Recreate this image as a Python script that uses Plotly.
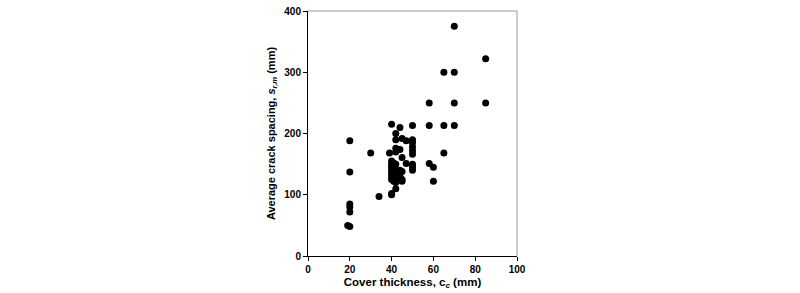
import plotly.graph_objects as go

cover = [19, 20, 20, 20, 20, 20, 20,
         30, 34, 39,
         40, 40, 40, 40, 40, 40, 40, 40, 40, 40, 40,
         41, 41, 41, 41, 41, 41,
         42, 42, 42, 42, 42, 42, 42, 42, 42,
         43, 43, 43,
         44, 44, 44, 44,
         45, 45, 45, 45, 45,
         47, 47,
         50, 50, 50, 50, 50, 50, 50, 50, 50,
         58, 58, 58,
         60, 60,
         65, 65, 65,
         70, 70, 70, 70,
         85, 85]
spacing = [50, 48, 72, 80, 85, 137, 188,
           168, 97, 168,
           215, 155, 150, 146, 142, 138, 133, 128, 125, 102, 100,
           152, 145, 135, 130, 126, 122,
           200, 190, 176, 170, 150, 140, 132, 120, 110,
           174, 138, 128,
           210, 174, 140, 130,
           192, 161, 138, 125, 122,
           188, 151,
           213, 190, 185, 178, 172, 166, 150, 145, 140,
           250, 213, 151,
           145, 122,
           300, 213, 168,
           375, 300, 250, 213,
           322, 250]

x_ticks = [0, 20, 40, 60, 80, 100]
y_ticks = [0, 100, 200, 300, 400]

fig = go.Figure()
fig.add_trace(go.Scatter(
    x=cover, y=spacing, mode="markers",
    marker=dict(color="black", size=7, line=dict(width=0)),
    showlegend=False,
))

font_family = "Liberation Sans, Arial, sans-serif"

fig.update_layout(
    width=800, height=293,
    margin=dict(l=308, r=283, t=11, b=37),
    paper_bgcolor="white", plot_bgcolor="white",
    font=dict(family=font_family, color="black"),
    xaxis=dict(
        range=[0, 100], tickvals=x_ticks, ticks="outside", ticklen=4,
        tickcolor="black", showline=True, linecolor="black", linewidth=1,
        showgrid=False, zeroline=False, automargin=False,
        tickfont=dict(size=10, family=font_family, weight="bold"),
        title=dict(text="<b>Cover thickness, c<sub><i>c</i></sub> (mm)</b>",
                   font=dict(size=11.5, family=font_family), standoff=3),
    ),
    yaxis=dict(
        range=[0, 400], tickvals=y_ticks, ticks="outside", ticklen=4,
        tickcolor="black", showline=True, linecolor="black", linewidth=1,
        showgrid=False, zeroline=False, automargin=False,
        tickfont=dict(size=10, family=font_family, weight="bold"),
        title=dict(text="<b>Average crack spacing, <i>s</i><sub><i>r,m</i></sub> (mm)</b>",
                   font=dict(size=11, family=font_family), standoff=6),
    ),
)

fig.add_shape(type="line", xref="paper", yref="paper", x0=0, x1=1, y0=1, y1=1,
              line=dict(color="#999999", width=1))
fig.add_shape(type="line", xref="paper", yref="paper", x0=1, x1=1, y0=0, y1=1,
              line=dict(color="#999999", width=1))

fig.write_html("out.html")
